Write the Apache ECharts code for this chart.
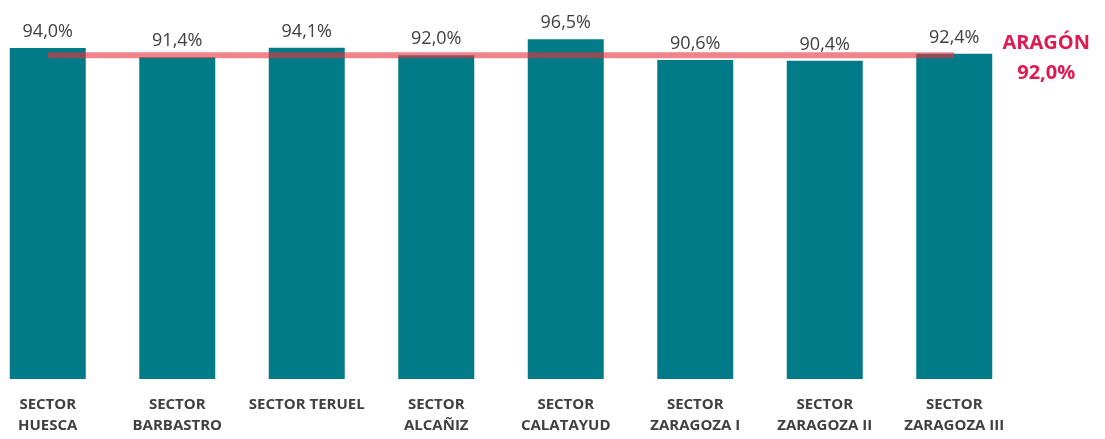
<!DOCTYPE html>
<html>
<head>
<meta charset="utf-8">
<script src="https://cdn.jsdelivr.net/npm/echarts@6/dist/echarts.min.js"></script>
<style>html,body{margin:0;padding:0;background:#fff;overflow:hidden}#c{position:absolute;left:-17px;top:0;width:1122px;height:439px}</style>
</head>
<body>
<div id="c"></div>
<script>
const categories = ['SECTOR\nHUESCA','SECTOR\nBARBASTRO','SECTOR TERUEL','SECTOR\nALCAÑIZ','SECTOR\nCALATAYUD','SECTOR\nZARAGOZA I','SECTOR\nZARAGOZA II','SECTOR\nZARAGOZA III'];
const sectorValues = [94.0, 91.4, 94.1, 92.0, 96.5, 90.6, 90.4, 92.4];
const aragonValue = 92.0;
const aragonLine = categories.map(() => aragonValue);

const fmt = v => v.toFixed(1).replace('.', ',') + '%';
const chart = echarts.init(document.getElementById('c'));
chart.setOption({
  animation: false,
  grid: { left: 0, width: 1036, top: 27, bottom: 60 },
  xAxis: {
    type: 'category', data: categories,
    axisLine: { show: false }, axisTick: { show: false },
    axisLabel: { color: '#404040', fontFamily: 'Open Sans', fontWeight: 'bold', fontSize: 15, lineHeight: 21, margin: 15, interval: 0 }
  },
  yAxis: { type: 'value', min: 0, max: 100, show: false, splitLine: { show: false } },
  series: [
    {
      type: 'bar', data: sectorValues, barWidth: 76,
      itemStyle: { color: '#007b87' },
      label: { show: true, position: 'top', distance: 7, color: '#404040', fontFamily: 'Open Sans', fontSize: 18, formatter: p => fmt(p.value) }
    },
    {
      type: 'line', data: aragonLine, symbol: 'none', z: 5,
      lineStyle: { color: 'rgba(232,50,60,0.6)', width: 6 },
      endLabel: { show: true, distance: 92, offset: [0, 3], color: '#e0194f', fontFamily: 'Open Sans', fontWeight: 'bold', fontSize: 20, lineHeight: 30, align: 'center',
        formatter: () => 'ARAGÓN\n' + fmt(aragonValue) }
    }
  ]
});
</script>
</body>
</html>
